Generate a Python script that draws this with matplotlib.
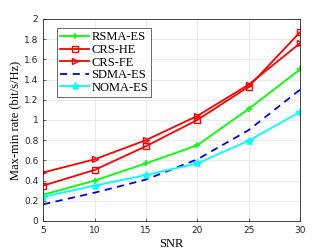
import matplotlib
matplotlib.use("Agg")
import matplotlib.pyplot as plt

snr = [5, 10, 15, 20, 25, 30]
rsma_es = [0.26, 0.40, 0.57, 0.75, 1.11, 1.50]
crs_he = [0.35, 0.505, 0.74, 1.00, 1.33, 1.87]
crs_fe = [0.48, 0.61, 0.80, 1.04, 1.35, 1.76]
sdma_es = [0.165, 0.28, 0.41, 0.61, 0.90, 1.30]
noma_es = [0.24, 0.35, 0.455, 0.57, 0.795, 1.08]

serif = ["Liberation Serif", "DejaVu Serif"]

fig = plt.figure(figsize=(3.32, 2.49), dpi=100)
ax = fig.add_axes([0.13, 0.1125, 0.774, 0.8115])

ax.plot(snr, rsma_es, color="#00ff00", lw=1.3, marker="+", ms=4, mew=1.2, label="RSMA-ES")
ax.plot(snr, crs_he, color="red", lw=1.3, marker="s", ms=4, mfc="none", mew=1.0, label="CRS-HE")
ax.plot(snr, crs_fe, color="red", lw=1.3, marker=">", ms=5, mfc="none", mew=1.0, label="CRS-FE")
ax.plot(snr, sdma_es, color="blue", lw=1.3, ls=(0, (4, 3)), label="SDMA-ES")
ax.plot(snr, noma_es, color="cyan", lw=1.3, marker="*", ms=6, label="NOMA-ES")

ax.set_xlim(5, 30)
ax.set_ylim(0, 2)
ax.set_xticks(snr)
ax.set_yticks([0, 0.2, 0.4, 0.6, 0.8, 1, 1.2, 1.4, 1.6, 1.8, 2])
ax.set_yticklabels(["0", "0.2", "0.4", "0.6", "0.8", "1", "1.2", "1.4", "1.6", "1.8", "2"])
ax.tick_params(labelsize=6.5, length=2, direction="in", colors="#262626", width=0.5)
ax.grid(color="#e6e6e6", lw=0.6)
ax.set_axisbelow(True)
for s in ax.spines.values():
    s.set_color("#262626")
    s.set_linewidth(0.6)

ax.set_xlabel("SNR", family=serif, fontsize=9, labelpad=2)
ax.set_ylabel("Max-min rate (bit/s/Hz)", family=serif, fontsize=9, labelpad=2)

leg = ax.legend(loc="upper left", prop={"family": serif, "size": 9}, handlelength=2.3,
                handletextpad=0.2, labelspacing=0.05, borderpad=0.25,
                fancybox=False, edgecolor="#262626", bbox_to_anchor=(0.03, 0.985))
leg.get_frame().set_linewidth(0.6)

fig.savefig("out.png", dpi=100)
